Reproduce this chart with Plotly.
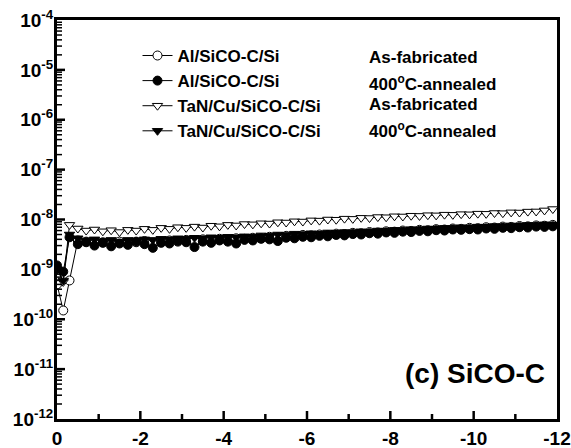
import plotly.graph_objects as go

voltage = [0, -0.15, -0.3, -0.5, -0.7, -0.9, -1.1, -1.3, -1.5, -1.7, -1.9, -2.1, -2.3, -2.5, -2.7, -2.9,
           -3.1, -3.3, -3.5, -3.7, -3.9, -4.1, -4.3, -4.5, -4.7, -4.9, -5.1, -5.3, -5.5, -5.7, -5.9,
           -6.1, -6.3, -6.5, -6.7, -6.9, -7.1, -7.3, -7.5, -7.7, -7.9, -8.1, -8.3, -8.5, -8.7, -8.9,
           -9.1, -9.3, -9.5, -9.7, -9.9, -10.1, -10.3, -10.5, -10.7, -10.9, -11.1, -11.3, -11.5, -11.7, -11.9]

al_asfab = [5.0e-10, 1.5e-10, 6.0e-10, 3.8e-9, 3.6e-9, 3.3e-9, 3.5e-9, 3.2e-9, 3.6e-9, 3.4e-9, 3.5e-9,
            3.7e-9, 3.4e-9, 3.6e-9, 3.8e-9, 3.6e-9, 3.9e-9, 3.7e-9, 4.0e-9, 3.8e-9, 4.1e-9, 3.9e-9,
            4.2e-9, 4.1e-9, 4.3e-9, 4.2e-9, 4.5e-9, 4.4e-9, 4.7e-9, 4.6e-9, 4.9e-9, 4.8e-9, 5.0e-9,
            4.9e-9, 5.2e-9, 5.1e-9, 5.4e-9, 5.3e-9, 5.6e-9, 5.5e-9, 5.8e-9, 5.7e-9, 6.0e-9, 5.9e-9,
            6.2e-9, 6.1e-9, 6.4e-9, 6.3e-9, 6.6e-9, 6.5e-9, 6.8e-9, 6.7e-9, 7.0e-9, 6.9e-9, 7.2e-9,
            7.1e-9, 7.4e-9, 7.3e-9, 7.6e-9, 7.5e-9, 7.8e-9]

al_annealed = [1.2e-9, 9.0e-10, 4.4e-9, 3.2e-9, 3.5e-9, 3.0e-9, 3.4e-9, 2.9e-9, 3.3e-9, 3.1e-9, 3.6e-9,
               3.2e-9, 2.7e-9, 3.4e-9, 3.3e-9, 3.7e-9, 3.5e-9, 2.8e-9, 3.6e-9, 3.4e-9, 3.8e-9, 3.6e-9,
               3.3e-9, 3.9e-9, 3.8e-9, 4.1e-9, 4.0e-9, 3.7e-9, 4.3e-9, 4.2e-9, 4.5e-9, 4.4e-9, 4.7e-9,
               4.6e-9, 4.9e-9, 4.8e-9, 5.1e-9, 5.0e-9, 5.3e-9, 5.2e-9, 5.5e-9, 5.4e-9, 5.7e-9, 5.6e-9,
               5.9e-9, 5.8e-9, 6.1e-9, 6.0e-9, 6.3e-9, 6.2e-9, 6.4e-9, 6.3e-9, 6.6e-9, 6.5e-9, 6.8e-9,
               6.7e-9, 7.0e-9, 6.9e-9, 7.2e-9, 7.1e-9, 7.3e-9]

tan_asfab = [1.0e-9, 5.6e-10, 7.8e-9, 6.6e-9, 6.0e-9, 6.3e-9, 5.8e-9, 6.1e-9, 5.6e-9, 6.2e-9, 6.0e-9,
             6.5e-9, 6.2e-9, 6.8e-9, 6.5e-9, 7.0e-9, 6.8e-9, 7.2e-9, 6.9e-9, 7.5e-9, 7.3e-9, 7.8e-9,
             7.6e-9, 8.1e-9, 8.0e-9, 8.4e-9, 8.3e-9, 8.8e-9, 8.7e-9, 9.2e-9, 9.1e-9, 9.6e-9, 9.5e-9,
             1.0e-8, 9.9e-9, 1.04e-8, 1.03e-8, 1.08e-8, 1.07e-8, 1.12e-8, 1.11e-8, 1.16e-8, 1.15e-8,
             1.19e-8, 1.18e-8, 1.22e-8, 1.21e-8, 1.25e-8, 1.24e-8, 1.28e-8, 1.27e-8, 1.31e-8, 1.30e-8,
             1.35e-8, 1.34e-8, 1.39e-8, 1.38e-8, 1.44e-8, 1.45e-8, 1.52e-8, 1.62e-8]

tan_annealed = [1.0e-9, 6.0e-10, 5.0e-9, 4.2e-9, 3.8e-9, 4.0e-9, 3.7e-9, 3.9e-9, 3.6e-9, 3.9e-9, 3.8e-9,
                4.0e-9, 3.9e-9, 4.1e-9, 4.0e-9, 4.2e-9, 4.1e-9, 4.3e-9, 4.2e-9, 4.4e-9, 4.3e-9, 4.5e-9,
                4.4e-9, 4.6e-9, 4.5e-9, 4.8e-9, 4.7e-9, 5.0e-9, 4.9e-9, 5.2e-9, 5.1e-9, 5.3e-9, 5.2e-9,
                5.5e-9, 5.4e-9, 5.6e-9, 5.5e-9, 5.8e-9, 5.7e-9, 6.0e-9, 5.9e-9, 6.2e-9, 6.1e-9, 6.4e-9,
                6.3e-9, 6.6e-9, 6.5e-9, 6.8e-9, 6.7e-9, 7.0e-9, 6.9e-9, 7.2e-9, 7.1e-9, 7.4e-9, 7.3e-9,
                7.6e-9, 7.5e-9, 7.8e-9, 7.7e-9, 8.0e-9, 7.9e-9]

series_names = ["Al/SiCO-C/Si", "Al/SiCO-C/Si", "TaN/Cu/SiCO-C/Si", "TaN/Cu/SiCO-C/Si"]
series_conditions = ["As-fabricated", "400<sup>o</sup>C-annealed", "As-fabricated", "400<sup>o</sup>C-annealed"]
series_values = [al_asfab, al_annealed, tan_asfab, tan_annealed]
series_symbols = ["circle", "circle", "triangle-down", "triangle-down"]
series_fill = ["white", "black", "white", "black"]

y_tick_vals = [1e-12, 1e-11, 1e-10, 1e-9, 1e-8, 1e-7, 1e-6, 1e-5, 1e-4]
y_tick_text = ["10<sup>-12</sup>", "10<sup>-11</sup>", "10<sup>-10</sup>", "10<sup>-9</sup>",
               "10<sup>-8</sup>", "10<sup>-7</sup>", "10<sup>-6</sup>", "10<sup>-5</sup>", "10<sup>-4</sup>"]
x_tick_vals = [0, -2, -4, -6, -8, -10, -12]
x_tick_text = ["0", "-2", "-4", "-6", "-8", "-10", "-12"]
x_minor_vals = [-1, -3, -5, -7, -9, -11]
y_minor_mantissas = [2, 3, 4, 5, 6, 7, 8, 9]

FONT = "Arial, Liberation Sans, Helvetica, sans-serif"
PLOT_W, PLOT_H = 500, 399

fig = go.Figure()
for name, vals, sym, fill in zip(series_names, series_values, series_symbols, series_fill):
    fig.add_trace(go.Scatter(
        x=voltage, y=vals, mode="lines+markers", name=name,
        line=dict(color="black", width=1),
        marker=dict(symbol=sym, size=9, color=fill, line=dict(color="black", width=1)),
    ))

fig.update_layout(
    width=571, height=448,
    margin=dict(l=57, r=14, t=20, b=29),
    paper_bgcolor="white", plot_bgcolor="white",
    showlegend=True,
    legend=dict(x=0.161, y=0.955, xanchor="left", yanchor="top",
                bgcolor="rgba(0,0,0,0)", borderwidth=0,
                font=dict(family=FONT, size=17, color="black", weight="bold"),
                tracegroupgap=0),
    xaxis=dict(range=[0, -12], tickmode="array", tickvals=x_tick_vals, ticktext=x_tick_text,
               ticks="", automargin=False,
               showline=True, linewidth=3, linecolor="black", mirror=True,
               showgrid=False, zeroline=False,
               tickfont=dict(family=FONT, size=19, color="black", weight="bold")),
    yaxis=dict(type="log", range=[-12, -4], tickmode="array", tickvals=y_tick_vals, ticktext=y_tick_text,
               ticks="", automargin=False, ticklabelstandoff=-3,
               showline=True, linewidth=3, linecolor="black", mirror=True,
               showgrid=False, zeroline=False,
               tickfont=dict(family=FONT, size=19, color="black", weight="bold")),
)

# inside tick marks on the bottom and left axes
tick_line = dict(color="black", width=2.5)
for xv in x_tick_vals[1:-1]:
    fig.add_shape(type="line", xref="x", yref="paper", x0=xv, x1=xv, y0=0, y1=8 / PLOT_H, line=tick_line)
for xv in x_minor_vals:
    fig.add_shape(type="line", xref="x", yref="paper", x0=xv, x1=xv, y0=0, y1=5 / PLOT_H, line=tick_line)
for yv in y_tick_vals[1:-1]:
    fig.add_shape(type="line", xref="paper", yref="y", x0=0, x1=8 / PLOT_W, y0=yv, y1=yv, line=tick_line)
for yv in y_tick_vals[:-1]:
    for m in y_minor_mantissas:
        fig.add_shape(type="line", xref="paper", yref="y", x0=0, x1=5 / PLOT_W, y0=m * yv, y1=m * yv,
                      line=dict(color="black", width=1.5))

row_y = [0.907, 0.843, 0.787, 0.724]
for cond, yy in zip(series_conditions, row_y):
    fig.add_annotation(x=0.62, y=yy, xref="paper", yref="paper", text=cond, showarrow=False,
                       xanchor="left", yanchor="middle",
                       font=dict(family=FONT, size=17, color="black", weight="bold"))

fig.add_annotation(x=0.98, y=0.115, xref="paper", yref="paper", text="(c) SiCO-C", showarrow=False,
                   xanchor="right", yanchor="middle",
                   font=dict(family=FONT, size=28, color="black", weight="bold"))

fig.write_html("out.html")
